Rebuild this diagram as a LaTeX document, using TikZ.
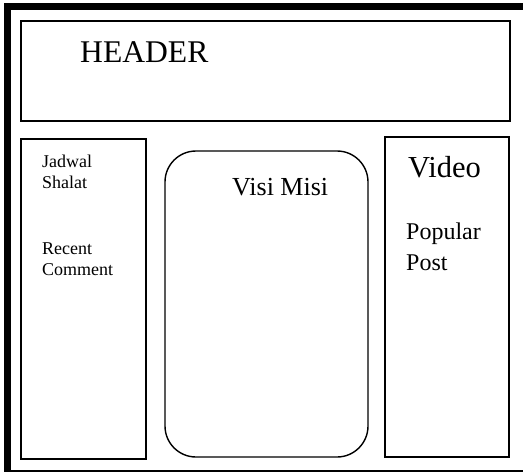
\documentclass[tikz,border=0pt]{standalone}
\usepackage{fontspec}
\setmainfont{Liberation Serif}
\usepackage{tikz}

\tikzset{
  panel/.style={draw, line width=1.4pt},
  lbl/.style={anchor=base west, inner sep=0pt}
}

\begin{document}
\begin{tikzpicture}[x=1pt,y=-1pt]
  \useasboundingbox (0,0) rectangle (523,472);
  \begin{scope}
    % page frame
    \draw[line width=6.5pt] (7.5,472) -- (7.5,6.5) -- (530,6.5);
    \draw[line width=2pt] (7.5,470.5) -- (530,470.5);
    % boxes
    \draw[panel] (21,21) rectangle (510,121);
    \draw[panel] (21,139) rectangle (146,459);
    \draw[panel, rounded corners=31pt] (165,151) rectangle (368,457);
    \draw[panel] (385,137) rectangle (509,457);
    % texts
    \node[lbl, font=\fontsize{31.6}{36}\selectfont] (header) at (80,62) {HEADER};
    \node[lbl, font=\fontsize{18}{21}\selectfont] (jadwal) at (42,167) {Jadwal};
    \node[lbl, font=\fontsize{18}{21}\selectfont] (shalat) at (42,188) {Shalat};
    \node[lbl, font=\fontsize{18}{21}\selectfont] (recent) at (42,254) {Recent};
    \node[lbl, font=\fontsize{18}{21}\selectfont] (comment) at (42,275) {Comment};
    \node[lbl, font=\fontsize{26}{30}\selectfont] (visi) at (232,195) {Visi Misi};
    \node[lbl, font=\fontsize{30.5}{35}\selectfont] (video) at (408,177) {Video};
    \node[lbl, font=\fontsize{24}{28}\selectfont] (popular) at (406,239) {Popular};
    \node[lbl, font=\fontsize{24}{28}\selectfont] (post) at (406,270) {Post};
  \end{scope}
\end{tikzpicture}
\end{document}
